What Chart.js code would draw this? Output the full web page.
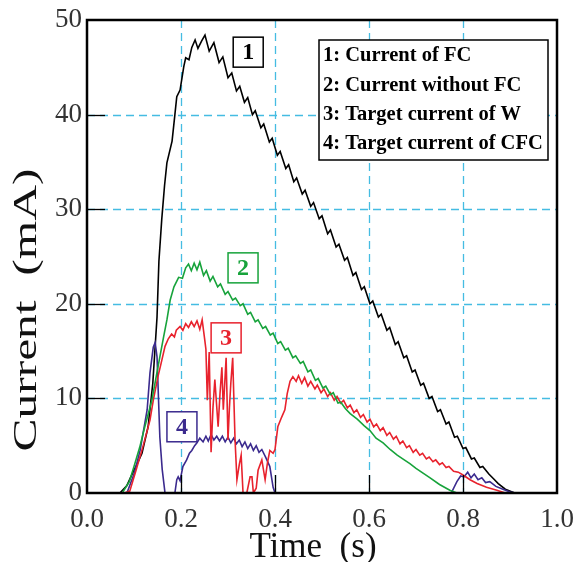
<!DOCTYPE html>
<html>
<head>
<meta charset="utf-8">
<script src="https://cdn.jsdelivr.net/npm/chart.js@4.4.1/dist/chart.umd.min.js"></script>
<style>
  body { margin: 0; background: #fff; }
  #chart { display: block; }
</style>
</head>
<body>
<canvas id="chart" width="575" height="562"></canvas>
<script>
// --- data: [time (s), current (mA)] ---
const seriesNames = ["1: Current of FC", "2: Current without FC", "3: Target current of W", "4: Target current of CFC"];
const seriesTags = ["1", "2", "3", "4"];
const seriesColors = ["#000000", "#17a33b", "#e8222d", "#3b2a8e"];

const fcCurrent = [
  [0,0],[0.07,0],[0.085,0.8],[0.098,2.2],[0.108,3.2],[0.117,4.2],[0.13,7.0],[0.14,11.6],[0.149,18.6],[0.153,24.5],
  [0.159,28.9],[0.165,32.5],[0.17,34.9],[0.181,37.2],[0.187,40],[0.191,41.9],[0.198,42.6],[0.206,45.1],[0.21,46],
  [0.217,45.8],[0.223,47.1],
  [0.23,47.9],[0.236,47],[0.244,47.8],[0.251,48.4],[0.26,46.7],[0.27,47.6],[0.281,45.5],[0.289,46.1],[0.3,43.9],
  [0.308,44.4],[0.318,42.5],[0.325,43.0],[0.335,41.3],[0.342,41.8],[0.352,40.0],[0.358,40.4],[0.37,38.6],
  [0.376,39.0],[0.388,37.1],[0.394,37.5],[0.405,35.7],[0.411,36.1],[0.423,34.3],[0.429,34.7],[0.44,32.9],
  [0.446,33.3],[0.458,31.6],[0.464,32.0],[0.476,30.3],[0.482,30.7],[0.494,29.0],[0.5,29.3],[0.512,27.4],
  [0.518,27.8],[0.53,26.0],[0.536,26.3],[0.548,24.6],[0.554,24.9],[0.566,23.0],[0.572,23.3],[0.584,21.5],
  [0.59,21.8],[0.602,20.0],[0.608,20.3],[0.62,18.6],[0.626,18.9],[0.638,17.2],[0.644,17.5],[0.656,15.7],
  [0.662,16.0],[0.674,14.3],[0.68,14.5],[0.692,12.8],[0.698,13.0],[0.71,11.4],[0.716,11.6],[0.728,10.0],
  [0.734,10.2],[0.746,8.6],[0.752,8.8],[0.764,7.3],[0.77,7.5],[0.782,5.9],[0.788,6.0],[0.8,4.7],[0.806,4.8],
  [0.818,3.6],[0.824,3.7],[0.836,2.7],[0.842,2.8],[0.855,2.0],[0.865,1.5],[0.875,1.0],[0.89,0.4],[0.91,0],[1,0]
];

const noFcCurrent = [
  [0,0],[0.075,0],[0.09,1.2],[0.1,2.8],[0.112,4.8],[0.123,7],[0.138,9.8],[0.148,12.5],[0.155,14.4],[0.163,16.5],
  [0.17,18.3],[0.177,20.4],[0.185,21.8],[0.195,22.8],[0.203,22.7],[0.21,23.8],[0.216,24.2],[0.222,23.5],
  [0.228,24.3],[0.234,23.6],[0.24,24.4],[0.248,23.0],[0.254,23.5],[0.262,22.4],[0.268,22.9],[0.278,21.8],
  [0.284,22.1],[0.294,21.0],[0.3,21.3],[0.31,20.4],[0.316,20.6],[0.326,19.8],[0.332,20.0],[0.342,18.9],
  [0.348,19.1],[0.358,18.1],[0.364,18.3],[0.374,17.4],[0.38,17.6],[0.39,16.7],[0.396,16.9],[0.406,15.8],
  [0.412,16.0],[0.422,15.1],[0.428,15.3],[0.438,14.3],[0.444,14.5],[0.454,13.7],[0.46,13.9],[0.47,12.8],
  [0.476,13.0],[0.486,11.9],[0.492,12.1],[0.502,11.1],[0.508,11.3],[0.518,10.4],[0.524,10.6],[0.534,9.5],
  [0.54,9.6],[0.55,8.9],[0.56,8.4],[0.575,7.8],[0.59,7.1],[0.602,6.6],[0.615,5.8],[0.63,5.3],[0.645,4.6],
  [0.66,4.0],[0.675,3.5],[0.687,3.1],[0.7,2.6],[0.715,2.1],[0.73,1.6],[0.75,0.9],[0.772,0.3],[0.787,0],[1,0]
];

const wTarget = [
  [0,0],[0.08,0],[0.091,0.2],[0.105,2.5],[0.119,4.9],[0.134,7.7],[0.141,9.8],[0.151,12.3],[0.159,14],
  [0.166,15.5],[0.173,16.3],[0.18,16.8],[0.186,16.5],[0.19,17.2],[0.198,17.6],[0.204,17.2],[0.21,17.9],
  [0.216,17.5],[0.222,18.1],[0.228,17.6],[0.234,18.2],[0.24,17.3],[0.245,18.3],[0.25,16.4],[0.253,15.2],
  [0.256,9.8],[0.26,14.9],[0.264,4.3],[0.268,9],[0.272,12],[0.279,7],[0.283,10.5],[0.287,13.3],[0.29,8.8],
  [0.296,14.3],[0.3,5.6],[0.303,9],[0.306,11.6],[0.31,14.3],[0.315,5.6],[0.319,1.4],[0.324,3],[0.328,4],
  [0.332,0],[0.34,0],[0.347,1.7],[0.351,1.7],[0.354,0],[0.36,0.5],[0.364,2.4],[0.372,3.5],[0.379,1.4],
  [0.384,3.2],[0.389,4.5],[0.396,4.2],[0.4,4.6],[0.406,7],[0.414,8],[0.421,8.8],[0.426,10.5],[0.432,11.8],
  [0.438,12.3],[0.445,11.8],[0.45,12.4],[0.457,11.6],[0.463,12.2],[0.47,11.3],[0.476,11.8],[0.485,11.0],
  [0.49,11.4],[0.498,10.6],[0.504,11.0],[0.512,10.2],[0.518,10.6],[0.526,9.8],[0.532,10.2],[0.54,9.5],
  [0.546,9.8],[0.554,9.0],[0.56,9.3],[0.568,8.5],[0.574,8.8],[0.582,8.0],[0.588,8.3],[0.596,7.5],[0.602,7.8],
  [0.61,7.0],[0.616,7.3],[0.624,6.6],[0.63,6.9],[0.638,6.1],[0.644,6.4],[0.652,5.7],[0.658,6.0],[0.666,5.2],
  [0.672,5.5],[0.68,4.8],[0.686,5.0],[0.694,4.3],[0.7,4.6],[0.708,4.0],[0.714,4.2],[0.722,3.6],[0.728,3.8],
  [0.736,3.3],[0.742,3.5],[0.75,3.0],[0.756,3.2],[0.764,2.7],[0.77,2.8],[0.78,2.3],[0.79,2.2],[0.8,1.9],
  [0.815,1.4],[0.83,1.0],[0.85,0.6],[0.872,0.3],[0.89,0],[1,0]
];

const cfcTarget = [
  [0,0],[0.085,0],[0.1,2],[0.113,4.5],[0.128,8.8],[0.134,12.7],[0.141,15.4],[0.145,15.9],[0.149,14.4],
  [0.155,5.9],[0.16,2.5],[0.166,0],[0.187,0],[0.191,1.4],[0.194,1.7],[0.198,1.3],[0.204,2.8],[0.212,3.5],
  [0.218,4.2],[0.223,4.5],[0.229,5.0],[0.234,5.3],[0.24,5.8],[0.247,5.4],[0.253,6.0],[0.258,5.5],[0.264,6.2],
  [0.27,5.6],[0.276,6.0],[0.282,5.5],[0.288,6.0],[0.294,5.4],[0.3,5.9],[0.306,5.3],[0.312,5.8],[0.318,5.2],
  [0.324,5.6],[0.33,4.9],[0.336,5.4],[0.342,4.7],[0.348,5.2],[0.354,4.5],[0.36,5.0],[0.366,4.3],[0.372,4.6],
  [0.38,3.8],[0.389,2.8],[0.396,0.6],[0.4,0],[0.775,0],[0.787,1.2],[0.795,1.8],[0.802,1.7],[0.81,2.2],
  [0.817,1.6],[0.824,2.0],[0.832,1.4],[0.84,1.6],[0.848,1.1],[0.857,1.2],[0.87,0.7],[0.885,0.4],[0.9,0.1],
  [0.912,0],[1,0]
];

// where the numbered tags sit, in data coordinates [time, current]
const tagAnchors = [[0.343, 46.6], [0.332, 23.8], [0.296, 16.4], [0.202, 7.0]];

const gridX = [0.2, 0.4, 0.6, 0.8];
const gridY = [10, 20, 30, 40];

const toPoints = arr => arr.map(p => ({ x: p[0], y: p[1] }));

// --- grid, frame, tags, legend and axis titles ---
const decorPlugin = {
    id: "decor",
    beforeDatasetsDraw(chart) {
        const { ctx, chartArea: a, scales: { x, y } } = chart;
        ctx.save();
        ctx.strokeStyle = "#45bce2";
        ctx.lineWidth = 1.3;
        ctx.setLineDash([8, 5]);
        gridX.forEach(v => {
            const px = Math.round(x.getPixelForValue(v)) + 0.5;
            ctx.beginPath(); ctx.moveTo(px, a.top); ctx.lineTo(px, a.bottom); ctx.stroke();
        });
        gridY.forEach(v => {
            const py = Math.round(y.getPixelForValue(v)) + 0.5;
            ctx.beginPath(); ctx.moveTo(a.left, py); ctx.lineTo(a.right, py); ctx.stroke();
        });
        ctx.restore();
    },
    afterDatasetsDraw(chart) {
        const { ctx, chartArea: a, scales: { x, y } } = chart;
        ctx.save();

        // inner tick marks
        ctx.strokeStyle = "#000";
        ctx.lineWidth = 1.3;
        gridX.forEach(v => {
            const px = Math.round(x.getPixelForValue(v)) + 0.5;
            ctx.beginPath(); ctx.moveTo(px, a.bottom); ctx.lineTo(px, a.bottom - 18); ctx.stroke();
        });
        gridY.forEach(v => {
            const py = Math.round(y.getPixelForValue(v)) + 0.5;
            ctx.beginPath(); ctx.moveTo(a.left, py); ctx.lineTo(a.left + 18, py); ctx.stroke();
        });

        // frame
        ctx.lineWidth = 2.5;
        ctx.strokeRect(a.left, a.top, a.right - a.left, a.bottom - a.top);

        // numbered tags
        ctx.font = "bold 24px 'Liberation Serif'";
        ctx.textAlign = "center";
        ctx.textBaseline = "middle";
        tagAnchors.forEach((t, i) => {
            const cx = x.getPixelForValue(t[0]);
            const cy = y.getPixelForValue(t[1]);
            ctx.fillStyle = "#fff";
            ctx.fillRect(cx - 15, cy - 15, 30, 30);
            ctx.strokeStyle = seriesColors[i];
            ctx.lineWidth = 1.5;
            ctx.strokeRect(cx - 15, cy - 15, 30, 30);
            ctx.fillStyle = seriesColors[i];
            ctx.fillText(seriesTags[i], cx, cy + 1);
        });

        // legend box
        ctx.fillStyle = "#fff";
        ctx.fillRect(319, 40, 229, 120);
        ctx.strokeStyle = "#000";
        ctx.lineWidth = 1.5;
        ctx.strokeRect(319, 40, 229, 120);
        ctx.fillStyle = "#000";
        ctx.font = "bold 20.5px 'Liberation Serif'";
        ctx.textAlign = "left";
        ctx.textBaseline = "middle";
        seriesNames.forEach((name, i) => {
            ctx.fillText(name, 323, 56 + i * 29.3);
        });

        // axis titles (the y title is drawn stretched along its length, like the original)
        ctx.fillStyle = "#111";
        ctx.font = "35px 'Liberation Serif'";
        ctx.textAlign = "center";
        ctx.textBaseline = "alphabetic";
        ctx.fillText("Time\u2002(s)", 313, 557);
        ctx.translate(36, 310);
        ctx.rotate(-Math.PI / 2);
        ctx.scale(1.5, 1);
        ctx.font = "33px 'Liberation Serif'";
        ctx.fillText("Current\u2002(mA)", 0, 0);
        ctx.restore();
    }
};

const ds = (data, i) => ({
    label: seriesNames[i],
    data: toPoints(data),
    borderColor: seriesColors[i],
    borderWidth: 1.6,
    pointRadius: 0,
    tension: 0,
    fill: false
});

new Chart(document.getElementById("chart"), {
    type: "line",
    data: {
        datasets: [ds(noFcCurrent, 1), ds(wTarget, 2), ds(cfcTarget, 3), ds(fcCurrent, 0)]
    },
    options: {
        responsive: false,
        animation: false,
        layout: { padding: { top: 20, right: 18, left: 0, bottom: 0 } },
        plugins: { legend: { display: false }, tooltip: { enabled: false } },
        scales: {
            x: {
                type: "linear",
                min: 0, max: 1,
                grid: { display: false, drawTicks: false },
                border: { display: false },
                ticks: {
                    stepSize: 0.2,
                    padding: 11,
                    color: "#333",
                    font: { family: "'Liberation Serif'", size: 27 },
                    callback: v => v.toFixed(1),
                    maxRotation: 0
                },
                afterFit: s => { s.height = 69; s.paddingLeft = 0; s.paddingRight = 0; }
            },
            y: {
                min: 0, max: 50,
                grid: { display: false, drawTicks: false },
                border: { display: false },
                ticks: {
                    stepSize: 10,
                    padding: 5,
                    color: "#333",
                    font: { family: "'Liberation Serif'", size: 27 }
                },
                afterFit: s => { s.width = 87; s.paddingTop = 0; s.paddingBottom = 0; }
            }
        }
    },
    plugins: [decorPlugin]
});
</script>
</body>
</html>
